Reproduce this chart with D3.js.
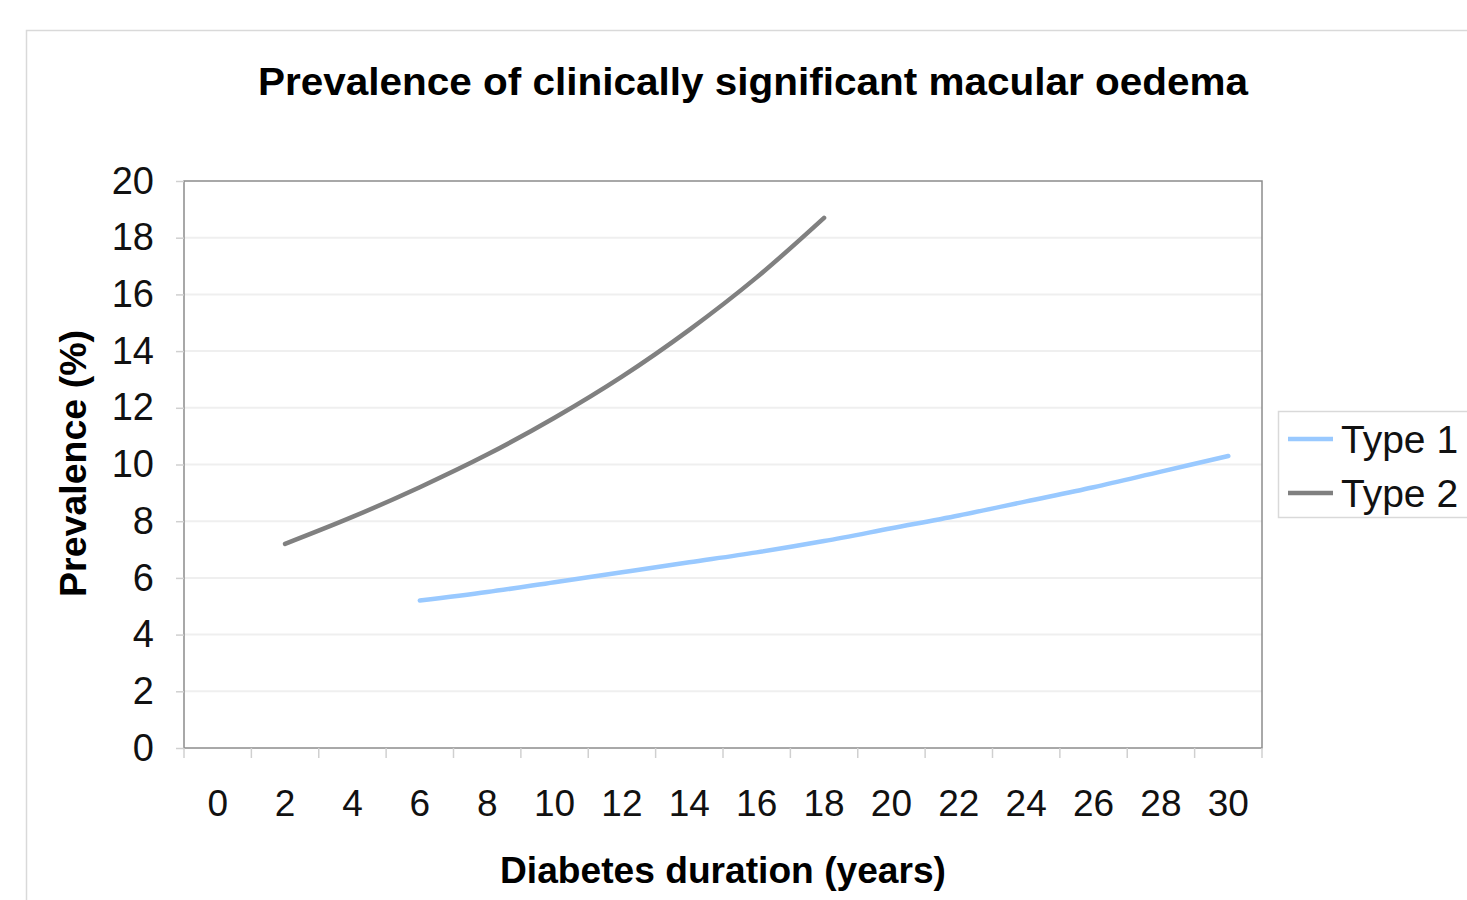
<!DOCTYPE html>
<html>
<head>
<meta charset="utf-8">
<script src="https://cdn.jsdelivr.net/npm/d3@7"></script>
<style>
  body { margin: 0; background: #fff; }
  svg { font-family: "Liberation Sans", Arial, sans-serif; }
</style>
</head>
<body>
<script>
// categories on the x axis (diabetes duration, years)
var years = [0, 2, 4, 6, 8, 10, 12, 14, 16, 18, 20, 22, 24, 26, 28, 30];
var yTicks = [0, 2, 4, 6, 8, 10, 12, 14, 16, 18, 20];

// Type 1: from 6 to 30 years
var type1Years = [6, 8, 10, 12, 14, 16, 18, 20, 22, 24, 26, 28, 30];
var type1Values = [5.2, 5.5, 5.85, 6.2, 6.55, 6.9, 7.3, 7.75, 8.2, 8.7, 9.2, 9.75, 10.3];

// Type 2: from 2 to 18 years
var type2Years = [2, 4, 6, 8, 10, 12, 14, 16, 18];
var type2Values = [7.2, 8.15, 9.2, 10.35, 11.65, 13.1, 14.75, 16.6, 18.7];

var series = [
  { name: "Type 1", color: "#99c9ff", years: type1Years, values: type1Values },
  { name: "Type 2", color: "#808080", years: type2Years, values: type2Values }
];

var width = 1467, height = 900;
var margin = { top: 181, right: 205, bottom: 152, left: 184 };
var plotW = width - margin.left - margin.right,
    plotH = height - margin.top - margin.bottom;

var svg = d3.select("body").append("svg")
  .attr("width", width)
  .attr("height", height);

// outer chart frame
svg.append("rect")
  .attr("x", 26.5).attr("y", 30.5)
  .attr("width", width).attr("height", height)
  .attr("fill", "none")
  .attr("stroke", "#d9d9d9")
  .attr("stroke-width", 1.5);

var g = svg.append("g")
  .attr("transform", "translate(" + margin.left + "," + margin.top + ")");

var x = d3.scaleBand().domain(years).range([0, plotW]);
var y = d3.scaleLinear().domain([0, 20]).range([plotH, 0]);

// gridlines
g.append("g")
  .selectAll("line")
  .data(yTicks.filter(function (d) { return d > 0 && d < 20; }))
  .enter().append("line")
  .attr("x1", 0).attr("x2", plotW)
  .attr("y1", function (d) { return y(d); })
  .attr("y2", function (d) { return y(d); })
  .attr("stroke", "#efefef")
  .attr("stroke-width", 2);

// plot border
g.append("rect")
  .attr("width", plotW).attr("height", plotH)
  .attr("fill", "none")
  .attr("stroke", "#8c8c8c")
  .attr("stroke-width", 1.5);

// y axis
var yAxis = g.append("g")
  .call(d3.axisLeft(y).tickValues(yTicks).tickSize(8).tickPadding(22));
yAxis.select(".domain").remove();
yAxis.selectAll("line").attr("stroke", "#d0d0d0").attr("stroke-width", 1.5);
yAxis.selectAll("text")
  .style("font-size", "38px")
  .attr("fill", "#111");

// x axis: ticks on band boundaries, labels at band centres
var xAxis = g.append("g")
  .attr("transform", "translate(0," + plotH + ")")
  .call(d3.axisBottom(x).tickSize(0).tickPadding(42));
xAxis.select(".domain").remove();
xAxis.selectAll("text")
  .style("font-size", "37px")
  .attr("fill", "#111");

g.append("g")
  .selectAll("line")
  .data(years.concat([null]))
  .enter().append("line")
  .attr("x1", function (d, i) { return i * x.step(); })
  .attr("x2", function (d, i) { return i * x.step(); })
  .attr("y1", plotH).attr("y2", plotH + 10)
  .attr("stroke", "#d0d0d0")
  .attr("stroke-width", 1.5);

// lines
var line = d3.line()
  .x(function (d) { return x(d[0]) + x.bandwidth() / 2; })
  .y(function (d) { return y(d[1]); })
  .curve(d3.curveCatmullRom);

series.forEach(function (s) {
  g.append("path")
    .datum(d3.zip(s.years, s.values))
    .attr("d", line)
    .attr("fill", "none")
    .attr("stroke", s.color)
    .attr("stroke-width", 4.5)
    .attr("stroke-linecap", "round");
});

// title
svg.append("text")
  .attr("x", 753).attr("y", 95)
  .attr("text-anchor", "middle")
  .attr("textLength", 990)
  .attr("lengthAdjust", "spacingAndGlyphs")
  .style("font-size", "38px")
  .style("font-weight", "bold")
  .text("Prevalence of clinically significant macular oedema");

// axis titles
svg.append("text")
  .attr("x", 723).attr("y", 883)
  .attr("text-anchor", "middle")
  .attr("textLength", 446)
  .attr("lengthAdjust", "spacingAndGlyphs")
  .style("font-size", "37px")
  .style("font-weight", "bold")
  .text("Diabetes duration (years)");

svg.append("text")
  .attr("transform", "translate(86," + (margin.top + plotH / 2 - 1) + ") rotate(-90)")
  .attr("text-anchor", "middle")
  .attr("textLength", 267)
  .attr("lengthAdjust", "spacingAndGlyphs")
  .style("font-size", "37px")
  .style("font-weight", "bold")
  .text("Prevalence (%)");

// legend
var legend = svg.append("g").attr("transform", "translate(1278,411)");
legend.append("rect")
  .attr("x", 0.5).attr("y", 0.5)
  .attr("width", 250).attr("height", 106)
  .attr("fill", "#fff")
  .attr("stroke", "#d9d9d9")
  .attr("stroke-width", 1.5);

series.forEach(function (s, i) {
  var ly = 28 + i * 54;
  legend.append("line")
    .attr("x1", 10).attr("x2", 55)
    .attr("y1", ly).attr("y2", ly)
    .attr("stroke", s.color)
    .attr("stroke-width", 4.5);
  legend.append("text")
    .attr("x", 63).attr("y", ly + 14)
    .style("font-size", "39px")
    .attr("fill", "#111")
    .text(s.name);
});
</script>
</body>
</html>
